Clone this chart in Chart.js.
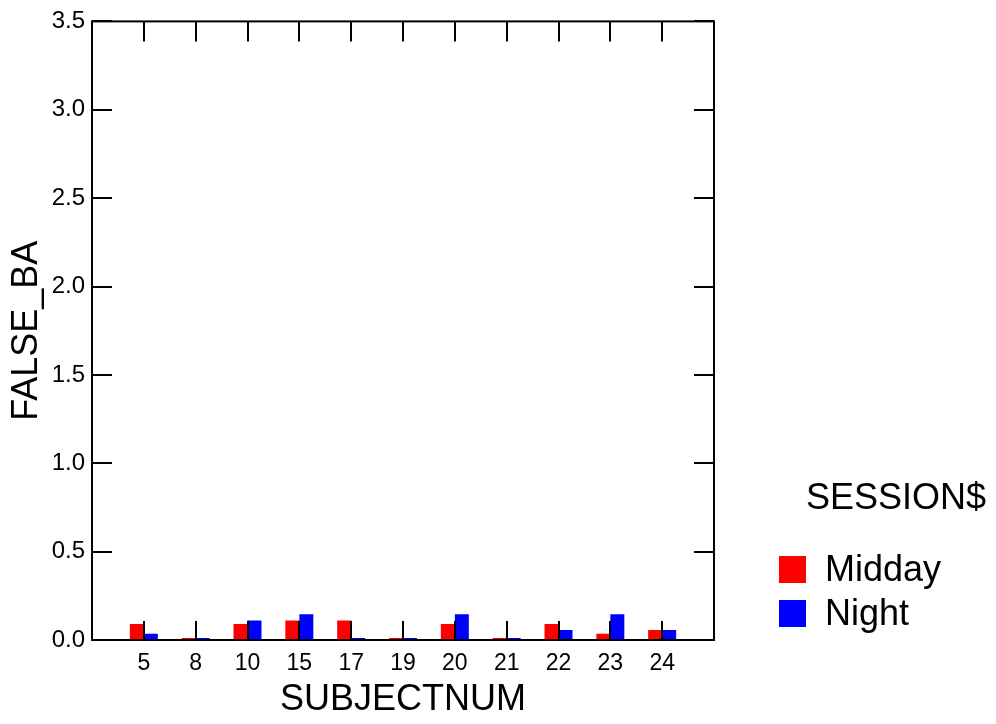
<!DOCTYPE html>
<html>
<head>
<meta charset="utf-8">
<script src="https://cdn.jsdelivr.net/npm/chart.js@4/dist/chart.umd.min.js"></script>
<style>
  html, body { margin: 0; padding: 0; background: #fff; }
  #wrap { width: 996px; height: 724px; }
</style>
</head>
<body>
<div id="wrap"><canvas id="falseChart" width="996" height="724"></canvas></div>
<script>
const subjects = ['5', '8', '10', '15', '17', '19', '20', '21', '22', '23', '24'];
const midday = [0.09, 0, 0.09, 0.11, 0.11, 0, 0.09, 0, 0.09, 0.035, 0.056];
const night = [0.035, 0, 0.11, 0.145, 0, 0, 0.145, 0, 0.056, 0.145, 0.056];
const yTicks = [0, 0.5, 1.0, 1.5, 2.0, 2.5, 3.0, 3.5];
const legendTitle = 'SESSION$';

const FONT = "'Liberation Sans', Arial, sans-serif";

// blank slots at both ends so the axis runs a full step past the first and last subject
const labels = [''].concat(subjects, ['']);
const pad = arr => [null].concat(arr, [null]);

// inward ticks on all four sides plus the closed frame
const framePlugin = {
  id: 'frame',
  afterDatasetsDraw(chart) {
    const { ctx, chartArea: a, scales } = chart;
    ctx.save();
    ctx.strokeStyle = '#000';
    ctx.lineWidth = 2;
    ctx.strokeRect(a.left, a.top, a.right - a.left, a.bottom - a.top);
    ctx.beginPath();
    scales.x.ticks.forEach((t, i) => {
      if (!labels[i]) return;
      const x = Math.round(scales.x.getPixelForTick(i));
      ctx.moveTo(x, a.bottom);
      ctx.lineTo(x, a.bottom - 19);
      ctx.moveTo(x, a.top);
      ctx.lineTo(x, a.top + 20);
    });
    yTicks.forEach((v) => {
      const y = Math.round(scales.y.getPixelForValue(v));
      ctx.moveTo(a.left, y);
      ctx.lineTo(a.left + 20, y);
      ctx.moveTo(a.right, y);
      ctx.lineTo(a.right - 20, y);
    });
    ctx.stroke();
    ctx.restore();
  },
};

// legend drawn by hand to the right of the plot
const legendPlugin = {
  id: 'sideLegend',
  afterDraw(chart) {
    const { ctx } = chart;
    ctx.save();
    ctx.fillStyle = '#000';
    ctx.font = `36px ${FONT}`;
    ctx.textBaseline = 'middle';
    ctx.textAlign = 'center';
    ctx.fillText(legendTitle, 896, 499);
    ctx.textAlign = 'left';
    chart.data.datasets.forEach((ds, i) => {
      const y = 556 + i * 44;
      ctx.fillStyle = ds.backgroundColor;
      ctx.fillRect(779, y, 27, 27);
      ctx.fillStyle = '#000';
      ctx.fillText(ds.label, 825, y + 15);
    });
    ctx.restore();
  },
};

new Chart(document.getElementById('falseChart'), {
  type: 'bar',
  data: {
    labels,
    datasets: [
      { label: 'Midday', data: pad(midday), backgroundColor: '#ff0000' },
      { label: 'Night', data: pad(night), backgroundColor: '#0000ff' },
    ],
  },
  options: {
    responsive: false,
    animation: false,
    layout: { padding: { top: 18, right: 282, left: 0, bottom: 0 } },
    datasets: {
      bar: { categoryPercentage: 0.54, barPercentage: 1.0, minBarLength: 2, borderWidth: 0 },
    },
    plugins: {
      legend: { display: false },
      tooltip: { enabled: false },
    },
    scales: {
      x: {
        offset: false,
        grid: { display: false, drawTicks: false, offset: false },
        border: { display: false },
        ticks: {
          autoSkip: false,
          maxRotation: 0,
          padding: 10,
          color: '#000',
          font: { family: FONT, size: 23 },
        },
        title: {
          display: true,
          text: 'SUBJECTNUM',
          color: '#000',
          font: { family: FONT, size: 36 },
          padding: { top: 0, bottom: 2 },
        },
        afterFit(scale) { scale.height = 84; },
      },
      y: {
        min: 0,
        max: 3.5,
        grid: { display: false, drawTicks: false },
        border: { display: false },
        afterBuildTicks(scale) { scale.ticks = yTicks.map(v => ({ value: v })); },
        ticks: {
          padding: 7,
          color: '#000',
          font: { family: FONT, size: 24 },
          callback: v => Number(v).toFixed(1),
        },
        title: {
          display: true,
          text: 'FALSE_BA',
          color: '#000',
          font: { family: FONT, size: 36 },
          padding: { top: 5, bottom: 0 },
        },
        afterFit(scale) { scale.width = 92; },
      },
    },
  },
  plugins: [framePlugin, legendPlugin],
});
</script>
</body>
</html>
